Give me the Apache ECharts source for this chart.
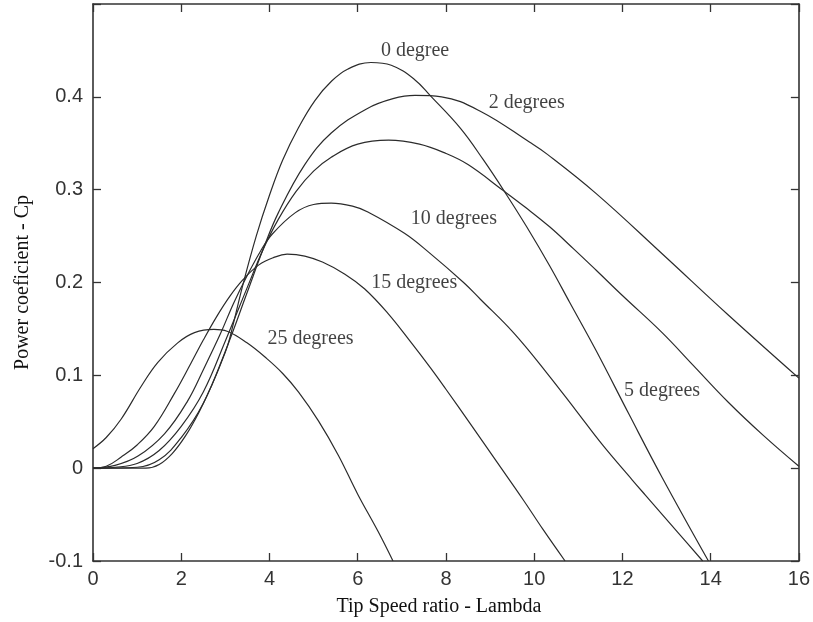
<!DOCTYPE html>
<html>
<head>
<meta charset="utf-8">
<script src="https://cdn.jsdelivr.net/npm/echarts@6/dist/echarts.min.js"></script>
<style>
  html, body { margin: 0; padding: 0; background: #fff; }
  #main { width: 813px; height: 622px; }
</style>
</head>
<body>
<div id="main"></div>
<script>
    // Cp vs lambda: [lambda, Cp]
    var beta0 = [[0,0],[1.2,0],[1.5,0.004],[1.8,0.016],[2.1,0.035],[2.4,0.06],[2.7,0.09],[3.0,0.125],
        [3.1,0.14],[3.4,0.198],[3.7,0.25],[4.0,0.294],[4.3,0.332],[4.66,0.367],[5.03,0.396],[5.41,0.417],
        [5.78,0.43],[6.3,0.437],[6.76,0.434],[7.28,0.419],[7.65,0.401],[8.33,0.366],[8.85,0.332],
        [9.34,0.297],[9.83,0.26],[10.35,0.218],[10.8,0.179],[11.4,0.127],[12.15,0.058],[12.9,-0.01],[13.95,-0.1]];
    var beta2 = [[0,0],[1.0,0.001],[1.5,0.009],[2.0,0.033],[2.5,0.07],[3.0,0.126],[3.5,0.19],[3.85,0.235],
        [4.2,0.275],[4.8,0.327],[5.4,0.361],[6.2,0.387],[6.8,0.398],[7.3,0.4015],[7.9,0.4],[8.8,0.384],
        [9.9,0.351],[10.3,0.338],[11.4,0.296],[12.9,0.231],[14.4,0.165],[16,0.097]];
    var beta5 = [[0,0],[0.5,0.001],[1.0,0.005],[1.5,0.019],[2.0,0.045],[2.5,0.082],[3.0,0.137],[3.5,0.195],
        [3.85,0.235],[4.2,0.268],[4.6,0.298],[5.0,0.32],[5.4,0.335],[6.0,0.349],[6.7,0.3533],[7.4,0.349],
        [8.0,0.339],[8.5,0.327],[9.3,0.299],[9.8,0.281],[10.35,0.26],[10.9,0.236],[11.4,0.2135],[12.0,0.186],
        [12.9,0.146],[13.6,0.111],[14.4,0.071],[15.2,0.035],[16,0.002]];
    var beta10 = [[0,0],[0.5,0.003],[1.02,0.013],[1.62,0.037],[2.14,0.072],[2.52,0.108],[2.89,0.145],
        [3.19,0.178],[3.49,0.207],[3.8,0.234],[4.06,0.252],[4.58,0.275],[5.0,0.284],[5.4,0.2855],[5.9,0.282],
        [6.23,0.276],[7.06,0.253],[7.6,0.233],[8.4,0.2],[8.78,0.182],[9.53,0.146],[10.28,0.103],[10.95,0.062],
        [11.55,0.025],[12.22,-0.0125],[12.52,-0.029],[13.27,-0.07],[13.82,-0.1]];
    var beta15 = [[0,0],[0.3,0.002],[0.64,0.012],[1.0,0.025],[1.39,0.045],[1.84,0.08],[2.22,0.113],
        [2.5,0.138],[2.8,0.163],[3.1,0.185],[3.4,0.203],[3.76,0.219],[4.1,0.227],[4.4,0.2305],[4.8,0.2285],
        [5.2,0.222],[5.71,0.209],[6.16,0.193],[6.68,0.167],[7.2,0.136],[7.65,0.108],[8.0,0.085],[8.55,0.048],
        [9.15,0.007],[9.75,-0.034],[10.2,-0.066],[10.7,-0.1]];
    var beta25 = [[0,0.021],[0.3,0.033],[0.64,0.053],[1.09,0.088],[1.47,0.114],[1.92,0.135],[2.3,0.146],
        [2.74,0.1495],[3.04,0.1475],[3.49,0.135],[3.94,0.118],[4.3,0.102],[4.66,0.082],[5.11,0.051],
        [5.56,0.014],[6.0,-0.028],[6.46,-0.068],[6.8,-0.1]];

    // curve labels: [text, lambda, Cp]
    var curveLabels = [
        ['0 degree', 7.3, 0.45],
        ['2 degrees', 9.83, 0.394],
        ['10 degrees', 8.18, 0.269],
        ['15 degrees', 7.28, 0.2],
        ['25 degrees', 4.93, 0.139],
        ['5 degrees', 12.9, 0.083]
    ];

    var chartDom = document.getElementById('main');
    var myChart = echarts.init(chartDom);

    var frame = { color: '#333', width: 1.6 };
    var tick = { inside: true, length: 8, lineStyle: { color: '#333', width: 1.3 } };
    var tickFont = { fontFamily: 'Liberation Sans', fontSize: 20, color: '#333' };
    var serif = { fontFamily: 'Liberation Serif', fontSize: 20, color: '#111' };

    function curve(data) {
        return {
            type: 'line',
            data: data,
            smooth: 0.4,
            symbol: 'none',
            lineStyle: { color: '#2b2b2b', width: 1.2 },
            silent: true
        };
    }

    var option = {
        animation: false,
        grid: { left: 93, right: 8, top: 4, bottom: 60 },
        xAxis: [{
            type: 'value', min: 0, max: 16, interval: 2,
            axisLine: { onZero: false, lineStyle: frame },
            axisTick: tick,
            splitLine: { show: false },
            axisLabel: Object.assign({ margin: 8 }, tickFont),
            name: 'Tip Speed ratio - Lambda',
            nameLocation: 'middle',
            nameGap: 36,
            nameTextStyle: Object.assign({ padding: [0, 14, 0, 0] }, serif)
        }, {
            type: 'value', position: 'top', min: 0, max: 16, interval: 2,
            axisLine: { show: true, onZero: false, lineStyle: frame },
            axisTick: tick,
            axisLabel: { show: false },
            splitLine: { show: false }
        }],
        yAxis: [{
            type: 'value', min: -0.1, max: 0.5, interval: 0.1,
            axisLine: { show: true, onZero: false, lineStyle: frame },
            axisTick: tick,
            splitLine: { show: false },
            axisLabel: Object.assign({
                margin: 10,
                formatter: function (v) {
                    return v > 0.45 ? '' : String(+v.toFixed(1));
                }
            }, tickFont),
            name: 'Power coeficient - Cp',
            nameLocation: 'middle',
            nameGap: 60,
            nameTextStyle: serif
        }, {
            type: 'value', position: 'right', min: -0.1, max: 0.5, interval: 0.1,
            axisLine: { show: true, onZero: false, lineStyle: frame },
            axisTick: tick,
            axisLabel: { show: false },
            splitLine: { show: false }
        }],
        series: [
            curve(beta0), curve(beta2), curve(beta5),
            curve(beta10), curve(beta15), curve(beta25),
            {
                type: 'scatter',
                symbolSize: 1,
                itemStyle: { color: 'rgba(0,0,0,0)' },
                silent: true,
                data: curveLabels.map(function (l) {
                    return { name: l[0], value: [l[1], l[2]] };
                }),
                label: Object.assign({
                    show: true,
                    position: 'inside',
                    formatter: '{b}'
                }, serif)
            }
        ]
    };

    myChart.setOption(option);
</script>
</body>
</html>
